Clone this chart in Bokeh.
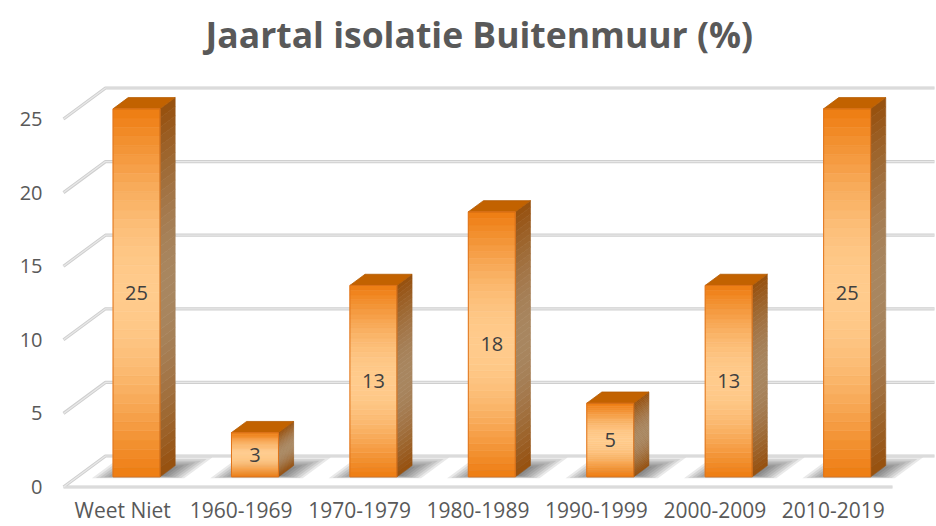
import math
from bokeh.plotting import figure
from bokeh.models import FixedTicker
from bokeh.core.properties import value
from bokeh.embed import file_html
from bokeh.resources import INLINE

# ---------------- data ----------------
categories = ["Weet Niet", "1960-1969", "1970-1979", "1980-1989",
              "1990-1999", "2000-2009", "2010-2019"]
percentages = [25, 3, 13, 18, 5, 13, 25]
y_ticks = [0, 5, 10, 15, 20, 25]
title_text = "Jaartal isolatie Buitenmuur  (%)"

# ---------------- 3D projection helpers (style) ----------------
PX_X = 118.43          # pixels per category
PX_Y = 14.72           # pixels per percent
DX = 42 / PX_X         # depth offset in x data units
DY = 31 / PX_Y         # depth offset in y data units
ZF, ZB = 0.33, 0.69    # bar front/back depth
HW = 0.1985            # half bar width
N = 40                 # gradient strips

ORANGE = (238, 125, 18)
LIGHT = (255, 203, 140)
SIDE_DARK = (150, 80, 14)
SIDE_MID = (168, 134, 96)
TOP_COL = "#C26200"
GRID_OUT = "#CFCFCF"
GRID_IN = "#E8E8E8"
TEXT_COL = "#595959"


def mix(c1, c2, w):
    return "#%02x%02x%02x" % tuple(int(round(a + (b - a) * w)) for a, b in zip(c1, c2))


def proj(x, y, z):
    return x + z * DX, y + z * DY


FONT = "Open Sans"
FRAME_L, FRAME_R, FRAME_T, FRAME_B = 55, 936, 68, 490
x_start = (FRAME_L - 122.2) / PX_X
x_end = (FRAME_R - 122.2) / PX_X
y_start = (486.5 - FRAME_B) / PX_Y
y_end = (486.5 - FRAME_T) / PX_Y

p = figure(width=936, height=526, output_backend="svg", toolbar_location=None,
           x_range=(x_start, x_end), y_range=(y_start, y_end),
           min_border_left=FRAME_L, min_border_right=0, min_border_top=FRAME_T,
           min_border_bottom=526 - FRAME_B, background_fill_color="white",
           border_fill_color="white", outline_line_color=None)

p.title.text = title_text
p.title.align = "left"
p.title.vertical_align = "top"
p.title.text_font = FONT
p.title.text_font_size = "35.5px"
p.title.text_font_style = "bold"
p.title.text_color = TEXT_COL
p.title.text_line_height = 0.6
p.title.offset = 150
p.title.standoff = 18

p.xgrid.visible = False
p.ygrid.visible = False

# ---------------- walls / gridlines ----------------
n = len(categories)
xl, xr = -0.5, n - 0.5
gx, gy = [], []
for t in y_ticks:
    a = proj(xl, t, 0)
    b = proj(xl, t, 1)
    c = proj(xr, t, 1)
    gx.append([a[0], b[0], c[0]])
    gy.append([a[1], b[1], c[1]])
# front floor edge
f0 = proj(xl, 0, 0)
f1 = proj(xr, 0, 0)
gx.append([f0[0], f1[0]])
gy.append([f0[1], f1[1]])
p.multi_line(gx, gy, line_color=GRID_OUT, line_width=3.2)
p.multi_line(gx, gy, line_color=GRID_IN, line_width=1.2)

# ---------------- shadows ----------------
sx, sy = [], []
L = 9
for i, v in enumerate(percentages):
    cx = i + 0.03
    for k in range(L):
        hx = 0.39 - 0.03 * k
        z0 = 0.28 + 0.012 * k
        z1 = 0.95 - 0.05 * k
        pts = [proj(cx - hx, 0, z0), proj(cx + hx, 0, z0),
               proj(cx + hx, 0, z1), proj(cx - hx, 0, z1)]
        sx.append([q[0] for q in pts])
        sy.append([q[1] for q in pts])
p.patches(sx, sy, fill_color="#333333", fill_alpha=0.11, line_color=None)

# ---------------- bars ----------------
fl, fr, fb, ft, fc = [], [], [], [], []
sxs, sys_, sc = [], [], []
txs, tys = [], []
for i, v in enumerate(percentages):
    x_left = i + ZF * DX - HW
    x_right = i + ZF * DX + HW
    x_right_b = i + ZB * DX + HW
    x_left_b = i + ZB * DX - HW
    base_f = ZF * DY
    base_b = ZB * DY
    for k in range(N):
        y0 = v * k / N
        y1 = v * (k + 1) / N
        t = (k + 0.5) / N
        w = math.sin(math.pi * t) ** 1.1
        fl.append(x_left)
        fr.append(x_right)
        fb.append(base_f + y0)
        ft.append(base_f + y1)
        fc.append(mix(ORANGE, LIGHT, w))
        sxs.append([x_right, x_right_b, x_right_b, x_right])
        sys_.append([base_f + y0, base_b + y0, base_b + y1, base_f + y1])
        sc.append(mix(SIDE_DARK, SIDE_MID, w))
    txs.append([x_left, x_right, x_right_b, x_left_b])
    tys.append([base_f + v, base_f + v, base_b + v, base_b + v])

p.quad(left=fl, right=fr, bottom=fb, top=ft, fill_color=fc, line_color=fc, line_width=0.6)
p.patches(sxs, sys_, fill_color=sc, line_color=sc, line_width=0.6)
p.patches(txs, tys, fill_color=TOP_COL, line_color="#B45A00", line_width=0.8)
# front face outline
p.quad(left=[i + ZF * DX - HW for i in range(n)],
       right=[i + ZF * DX + HW for i in range(n)],
       bottom=[ZF * DY] * n,
       top=[ZF * DY + v for v in percentages],
       fill_color=None, line_color="#E0741A", line_width=1)

# ---------------- data labels ----------------
p.text(x=[i + ZF * DX for i in range(n)],
       y=[ZF * DY + v / 2 for v in percentages],
       text=[str(v) for v in percentages],
       text_align="center", text_baseline="middle",
       text_font=value(FONT), text_font_size="20px", text_color="#404040")

# ---------------- axes ----------------
p.yaxis.ticker = FixedTicker(ticks=y_ticks)
p.yaxis.axis_line_color = None
p.yaxis.major_tick_line_color = None
p.yaxis.minor_tick_line_color = None
p.yaxis.major_tick_out = 0
p.yaxis.major_tick_in = 0
p.yaxis.major_label_standoff = 13
p.yaxis.major_label_text_font = FONT
p.yaxis.major_label_text_font_size = "20px"
p.yaxis.major_label_text_color = TEXT_COL

p.xaxis.ticker = FixedTicker(ticks=list(range(n)))
p.xaxis.major_label_overrides = {i: c for i, c in enumerate(categories)}
p.xaxis.axis_line_color = None
p.xaxis.major_tick_line_color = None
p.xaxis.minor_tick_line_color = None
p.xaxis.major_tick_out = 0
p.xaxis.major_tick_in = 0
p.xaxis.major_label_standoff = 5
p.xaxis.major_label_text_font = FONT
p.xaxis.major_label_text_font_size = "21px"
p.xaxis.major_label_text_color = TEXT_COL

open("out.html", "w").write(file_html(p, INLINE))
